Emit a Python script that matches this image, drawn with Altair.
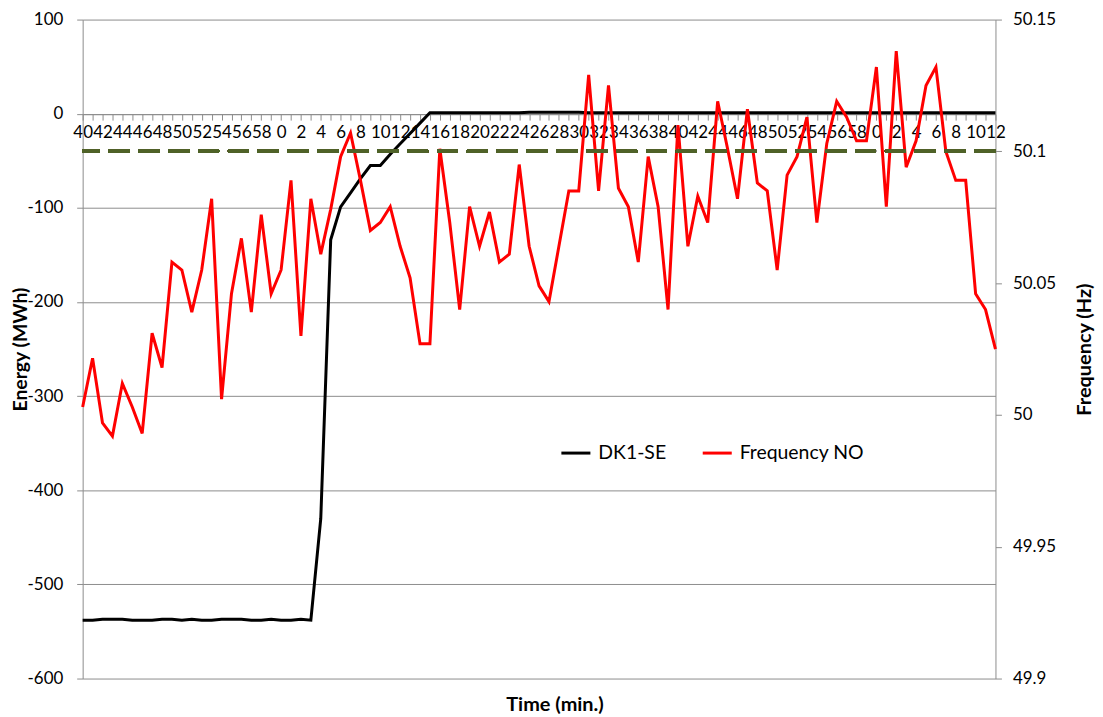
import json
import altair as alt
import pandas as pd

# ---- data ----
minutes = [40, 41, 42, 43, 44, 45, 46, 47, 48, 49, 50, 51, 52, 53, 54, 55, 56, 57, 58, 59,
           0, 1, 2, 3, 4, 5, 6, 7, 8, 9, 10, 11, 12, 13, 14, 15, 16, 17, 18, 19,
           20, 21, 22, 23, 24, 25, 26, 27, 28, 29, 30, 31, 32, 33, 34, 35, 36, 37, 38, 39,
           40, 41, 42, 43, 44, 45, 46, 47, 48, 49, 50, 51, 52, 53, 54, 55, 56, 57, 58, 59,
           0, 1, 2, 3, 4, 5, 6, 7, 8, 9, 10, 11, 12]

energy_dk1_se = [-538, -538, -537, -537, -537, -538, -538, -538, -537, -537,
                 -538, -537, -538, -538, -537, -537, -537, -538, -538, -537,
                 -538, -538, -537, -538, -430, -134, -99, -84, -69, -55,
                 -55, -43, -32, -21, -10, 1, 1, 1, 1, 1,
                 1, 1, 1, 1, 1, 1.5, 1.5, 1.5, 1.5, 1.5,
                 1.5, 1, 1, 1, 1, 1, 1, 1, 1, 1,
                 1, 1, 1, 1, 1, 1, 1, 1, 1, 1,
                 1, 1, 1, 1, 1, 1, 1, 1, 1, 1,
                 1, 1, 1, 1, 1, 1, 1, 1, 1, 1,
                 1, 1, 1]

frequency_no = [50.003, 50.0215, 49.997, 49.992, 50.012, 50.003, 49.993, 50.031, 50.018, 50.058,
                50.055, 50.039, 50.055, 50.082, 50.006, 50.046, 50.067, 50.039, 50.076, 50.046,
                50.055, 50.089, 50.030, 50.082, 50.061, 50.078, 50.098, 50.107, 50.089, 50.070,
                50.073, 50.079, 50.064, 50.052, 50.027, 50.027, 50.101, 50.073, 50.040, 50.079,
                50.064, 50.077, 50.058, 50.061, 50.095, 50.064, 50.049, 50.043, 50.064, 50.085,
                50.085, 50.129, 50.085, 50.125, 50.086, 50.079, 50.058, 50.098, 50.079, 50.040,
                50.110, 50.064, 50.083, 50.073, 50.119, 50.101, 50.082, 50.116, 50.088, 50.085,
                50.055, 50.091, 50.098, 50.113, 50.073, 50.103, 50.119, 50.113, 50.104, 50.104,
                50.132, 50.079, 50.138, 50.094, 50.104, 50.125, 50.132, 50.100, 50.089, 50.089,
                50.046, 50.040, 50.025]

threshold_hz = 50.1
energy_ticks = [-600, -500, -400, -300, -200, -100, 0, 100]
freq_ticks = [49.9, 49.95, 50, 50.05, 50.1, 50.15]
series_names = ["DK1-SE", "Frequency NO"]
series_colors = ["#000000", "#ff0000"]

# ---- tables ----
idx = list(range(len(minutes)))
x_labels = [str(m) if i % 2 == 0 else "" for i, m in enumerate(minutes)]
df_e = pd.DataFrame({"idx": idx, "value": energy_dk1_se, "series": series_names[0]})
df_f = pd.DataFrame({"idx": idx, "value": frequency_no, "series": series_names[1]})

W, H = 917, 662
zero_px = 95  # distance of the 0 MWh line from the top of the plot

grey = "#8c8c8c"
font = "Lato"

color = alt.Color(
    "series:N",
    scale=alt.Scale(domain=series_names, range=series_colors),
    legend=alt.Legend(
        orient="none", legendX=479, legendY=419, direction="horizontal", title=None,
        symbolType="stroke", symbolStrokeWidth=3, symbolSize=850,
        labelFontSize=19.5, labelFont=font, labelColor="black",
        columnPadding=29, labelOffset=6,
    ),
)

x_enc = alt.X(
    "idx:Q",
    scale=alt.Scale(domain=[0, len(minutes) - 1], nice=False, zero=False),
    axis=alt.Axis(
        values=idx, labelExpr=json.dumps(x_labels) + "[datum.value]",
        labelOverlap=False, labelFlush=False, grid=False,
        offset=-(H - zero_px), tickSize=6, labelPadding=4,
        title="Time (min.)", titleY=H - zero_px + 16, titleX=474,
        titleBaseline="top", titleAlign="center",
    ),
)

energy_line = alt.Chart(df_e).mark_line(strokeWidth=3).encode(
    x=x_enc,
    y=alt.Y(
        "value:Q",
        scale=alt.Scale(domain=[-600, 100], nice=False, zero=False),
        axis=alt.Axis(
            values=energy_ticks, labelExpr="'' + datum.value", grid=True,
            tickSize=6, labelPadding=14, title="Energy (MWh)",
            titleX=-62, titleY=H / 2, titleAngle=270, titleFontSize=19.5,
            titleAlign="center", titleBaseline="middle",
        ),
    ),
    color=color,
)

freq_scale = alt.Scale(domain=[49.9, 50.15], nice=False, zero=False)
freq_line = alt.Chart(df_f).mark_line(strokeWidth=3).encode(
    x=x_enc,
    y=alt.Y(
        "value:Q",
        scale=freq_scale,
        axis=alt.Axis(
            orient="right", values=freq_ticks, format="~f", grid=False,
            tickSize=6, labelPadding=11, title="Frequency (Hz)",
            titleX=89, titleY=H / 2, titleAngle=270,
            titleAlign="center", titleBaseline="middle",
        ),
    ),
    color=color,
)

threshold = alt.Chart(df_f).mark_rule(
    color="#4f6228", strokeWidth=3, strokeDash=[21, 9]
).encode(y=alt.Y(datum=threshold_hz, scale=freq_scale))

right = alt.layer(freq_line, threshold)

chart = alt.layer(energy_line, right).resolve_scale(y="independent").properties(
    width=W, height=H,
    autosize=alt.AutoSizeParams(type="none"),
    padding={"left": 75, "top": 10, "right": 100, "bottom": 35},
).configure(font=font).configure_view(stroke=None).configure_axis(
    labelFont=font, labelFontSize=17, labelColor="black",
    titleFont=font, titleFontSize=20, titleFontWeight="bold", titleColor="black",
    domainColor=grey, tickColor=grey, gridColor=grey, domainWidth=1, gridWidth=1,
)

chart.save("out.html", embed_options={"renderer": "svg", "actions": False})
